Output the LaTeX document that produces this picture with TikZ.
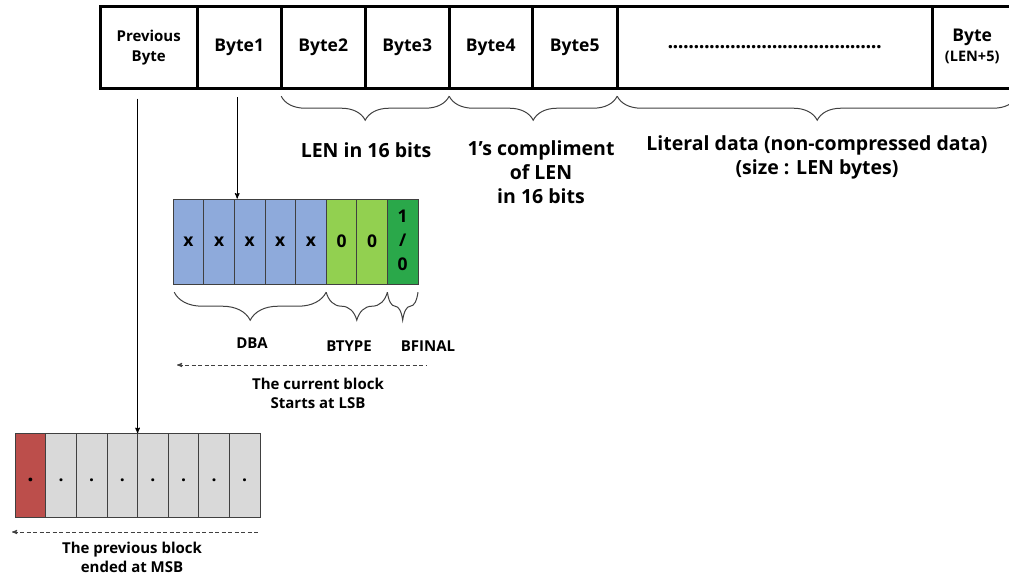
\documentclass[tikz,border=0pt]{standalone}
\usepackage{fontspec}
\setmainfont{Open Sans}
\usetikzlibrary{matrix,calc,arrows,decorations.pathreplacing}
\tikzset{>=stealth'}
\definecolor{dbablue}{HTML}{8EAADB}
\definecolor{typegreen}{HTML}{92D050}
\definecolor{finalgreen}{HTML}{2AA84A}
\definecolor{msbred}{HTML}{BC4E4B}
\definecolor{bitgray}{HTML}{D9D9D9}
\newcommand{\twolines}[2]{\begin{tabular}{@{}c@{}}#1\\#2\end{tabular}}
\newcommand{\finalbit}{\begin{tabular}{@{}c@{}}1\\/\\0\end{tabular}}
\newcommand{\dotrow}{\fontsize{20}{20}\selectfont\hbox to 214pt{\xleaders\hbox to 5.1pt{\hss.\hss}\hfill}}
\tikzset{
  bytecell/.style={draw,line width=2.6pt,minimum height=82pt,inner sep=0,outer sep=0,anchor=center,font=\bfseries\fontsize{17.5}{20}\selectfont},
  bitcell/.style={draw=black!75,line width=0.8pt,minimum width=30.6pt,minimum height=85pt,inner sep=0,outer sep=0,anchor=center,font=\bfseries\fontsize{17.5}{24}\selectfont},
  bracket/.style={decorate,decoration={brace,mirror,amplitude=#1},line width=1pt,draw=black!75},
  bracket/.default=24pt,
  lbl/.style={font=\bfseries\fontsize{19.5}{24}\selectfont,align=center,inner sep=0},
  sublbl/.style={font=\bfseries\fontsize{15}{19}\selectfont,align=center,inner sep=0},
  lsbarrow/.style={<-,line width=0.9pt,draw=black!75,dash pattern=on 4pt off 2.5pt}
}
\begin{document}
\begin{tikzpicture}[x=1pt,y=-1pt]
  \clip (0,0) rectangle (1009,576);
  \matrix (row) [matrix of nodes,anchor=north west,inner sep=0,column sep=-2.6pt,nodes={bytecell}] at (98.7,4.7) {
    |[minimum width=97pt,font=\bfseries\fontsize{15}{20}\selectfont]| \twolines{Previous}{Byte} &
    |[minimum width=84pt]| Byte1 &
    |[minimum width=84pt]| Byte2 &
    |[minimum width=84pt]| Byte3 &
    |[minimum width=83pt]| Byte4 &
    |[minimum width=85pt]| Byte5 &
    |[minimum width=315pt]| \dotrow &
    |[minimum width=80pt]| \twolines{Byte}{\fontsize{14.5}{17}\selectfont(LEN+5)} \\
  };
  \matrix (cur) [matrix of nodes,anchor=north west,inner sep=0,column sep=-0.8pt,nodes={bitcell}] at (172.6,198.6) {
    |[fill=dbablue]| x & |[fill=dbablue]| x & |[fill=dbablue]| x & |[fill=dbablue]| x & |[fill=dbablue]| x &
    |[fill=typegreen]| 0 & |[fill=typegreen]| 0 & |[fill=finalgreen]| \finalbit \\
  };
  \matrix (old) [matrix of nodes,anchor=north west,inner sep=0,column sep=-0.8pt,nodes={bitcell,minimum height=84pt,fill=bitgray,text height=13pt,text depth=0pt}] at (14.6,432.6) {
    |[fill=msbred,font=\bfseries\fontsize{22}{24}\selectfont]| . & . & . & . & . & . & . & . \\
  };
  \draw[bracket] ($(row-1-3.south west)+(0,8)$) -- ($(row-1-4.south east)+(0,8)$);
  \draw[bracket] ($(row-1-5.south west)+(0,8)$) -- ($(row-1-6.south east)+(0,8)$);
  \draw[bracket] ($(row-1-7.south west)+(0,8)$) -- ($(row-1-7.south west)+(400,8)$);
  \draw[bracket=28pt] ($(cur-1-1.south west)+(1,8)$) -- ($(cur-1-5.south east)+(0,8)$);
  \draw[bracket=28pt] ($(cur-1-6.south west)+(0,8)$) -- ($(cur-1-7.south east)+(0,8)$);
  \draw[bracket=28pt] ($(cur-1-8.south west)+(0,8)$) -- ($(cur-1-8.south east)+(0,8)$);
  \node[lbl] (len) at (366,150) {LEN in 16 bits};
  \node[lbl] (nlen) at (541,172) {1’s compliment\\of LEN\\in 16 bits};
  \node[lbl] (lit) at (817,157) {Literal data (non-compressed data)\\(size : LEN bytes)};
  \node[sublbl] (dba) at (252,343) {DBA};
  \node[sublbl] (btype) at (349,346) {BTYPE};
  \node[sublbl] (bfinal) at (428,346) {BFINAL};
  \node[sublbl] (lsb) at (318,393) {The current block\\Starts at LSB};
  \node[sublbl] (msb) at (132,557) {The previous block\\ended at MSB};
  \coordinate (prevtop) at ($(old-1-4.north east |- row.south)+(0,9)$);
  \coordinate (b1top) at ($(row-1-2.south)+(-2,9)$);
  \draw[->,line width=1pt] (prevtop) -- (old-1-4.north east);
  \draw[->,line width=1pt] (b1top) -- (b1top |- cur.north);
  \coordinate (lsbL) at (177,365);
  \coordinate (lsbR) at (427,365);
  \coordinate (msbL) at (12,532);
  \coordinate (msbR) at (260,532);
  \draw[lsbarrow] (lsbL) -- (lsbR);
  \draw[lsbarrow] (msbL) -- (msbR);
\end{tikzpicture}
\end{document}
